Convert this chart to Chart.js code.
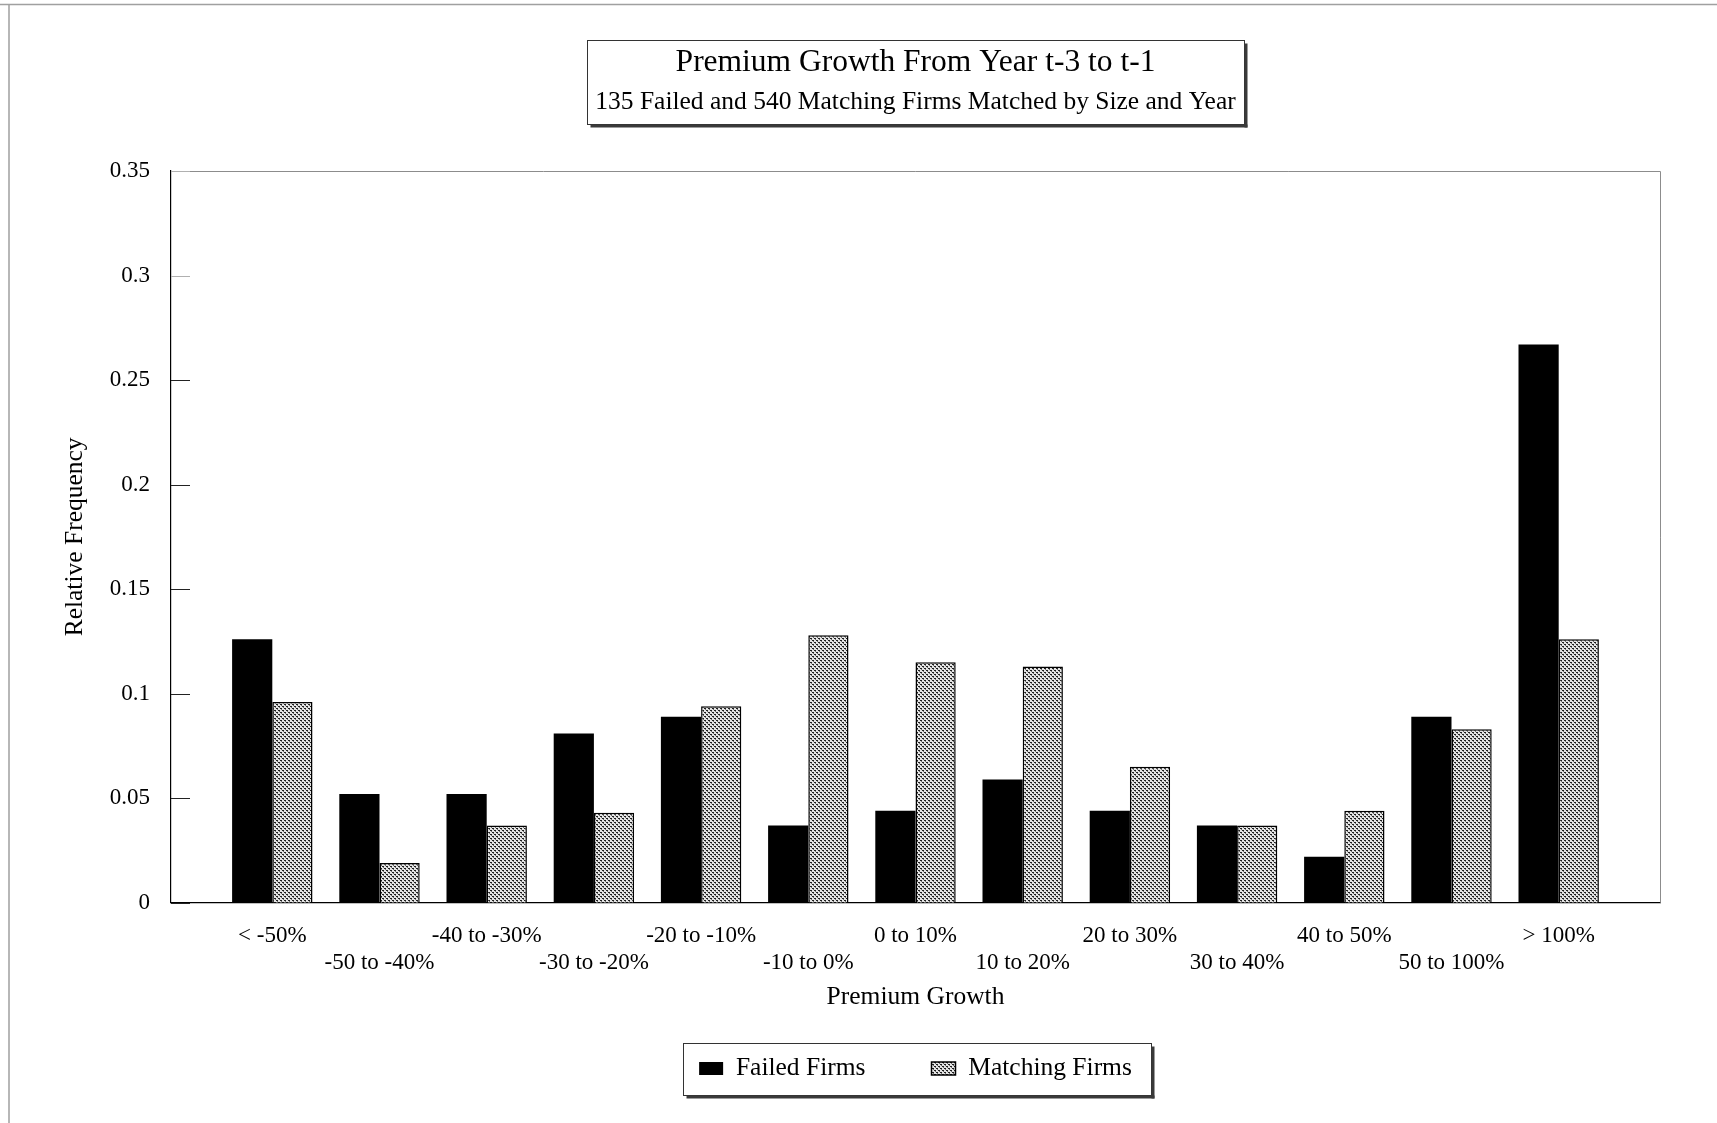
<!DOCTYPE html>
<html>
<head>
<meta charset="utf-8">
<script src="https://cdn.jsdelivr.net/npm/chart.js@4.4.1/dist/chart.umd.min.js"></script>
<style>
html,body{margin:0;padding:0;background:#fff;}
#wrap{width:1717px;height:1123px;position:relative;}
</style>
</head>
<body>
<div id="wrap"><canvas id="c" width="1717" height="1123"></canvas></div>
<script>
// ---- data ----
const categories = ['< -50%', '-50 to -40%', '-40 to -30%', '-30 to -20%', '-20 to -10%', '-10 to 0%', '0 to 10%', '10 to 20%', '20 to 30%', '30 to 40%', '40 to 50%', '50 to 100%', '> 100%'];
const failedFirms = [0.126, 0.052, 0.052, 0.081, 0.089, 0.037, 0.044, 0.059, 0.044, 0.037, 0.022, 0.089, 0.267];
const matchingFirms = [0.096, 0.019, 0.037, 0.043, 0.094, 0.128, 0.115, 0.113, 0.065, 0.037, 0.044, 0.083, 0.126];
const yTickValues = [0, 0.05, 0.1, 0.15, 0.2, 0.25, 0.3, 0.35];
const seriesNames = ['Failed Firms', 'Matching Firms'];
const titleText = 'Premium Growth From Year t-3 to t-1';
const subtitleText = '135 Failed and 540 Matching Firms Matched by Size and Year';
const xTitle = 'Premium Growth';
const yTitle = 'Relative Frequency';

const FONT = "'Liberation Serif', 'Times New Roman', serif";
Chart.defaults.font.family = FONT;
Chart.defaults.color = '#000';

// dotted fill pattern for the matching firms
function makePattern() {
  const t = document.createElement('canvas');
  t.width = 4; t.height = 4;
  const g = t.getContext('2d');
  g.fillStyle = '#e4e4e4'; g.fillRect(0, 0, 4, 4);
  g.fillStyle = '#1e1e1e';
  g.fillRect(0, 0, 2, 1);
  g.fillRect(2, 2, 2, 1);
  g.fillStyle = '#707070';
  g.fillRect(1, 1, 1, 1);
  g.fillRect(3, 3, 1, 1);
  return g.createPattern(t, 'repeat');
}
const dotPattern = makePattern();

const deco = {
  id: 'deco',
  beforeDraw(chart) {
    const ctx = chart.ctx;
    ctx.save();
    ctx.fillStyle = '#fff';
    ctx.fillRect(0, 0, chart.width, chart.height);
    ctx.strokeStyle = '#a0a0a0';
    ctx.lineWidth = 1.5;
    ctx.beginPath();
    ctx.moveTo(0, 4.5); ctx.lineTo(chart.width, 4.5);
    ctx.moveTo(9, 4.5); ctx.lineTo(9, chart.height);
    ctx.stroke();
    ctx.restore();
  },
  afterDraw(chart) {
    const ctx = chart.ctx;
    const a = chart.chartArea;
    const y = chart.scales.y;
    ctx.save();
    // top and right frame of plot
    ctx.strokeStyle = '#8c8c8c';
    ctx.lineWidth = 1;
    ctx.beginPath();
    ctx.moveTo(a.left, Math.round(a.top) + 0.5);
    ctx.lineTo(Math.round(a.right) + 0.5, Math.round(a.top) + 0.5);
    ctx.lineTo(Math.round(a.right) + 0.5, a.bottom);
    ctx.stroke();
    // inner tick marks
    y.ticks.forEach(t => {
      const py = Math.round(y.getPixelForValue(t.value)) + 0.5;
      ctx.strokeStyle = t.value > 0.27 ? '#b0b0b0' : '#222';
      ctx.beginPath();
      ctx.moveTo(a.left, py);
      ctx.lineTo(a.left + 19, py);
      ctx.stroke();
    });
    // title box
    const tb = chart.titleBlock;
    if (tb) {
      ctx.font = "25.5px " + FONT;
      const w = ctx.measureText(subtitleText).width + 16;
      const cx = (tb.left + tb.right) / 2;
      const L = Math.round(cx - w / 2) + 0.5, R = Math.round(cx + w / 2) + 0.5;
      const T = Math.round(tb.top + 40) + 0.5, B = Math.round(tb.bottom + 43.6) + 0.5;
      ctx.strokeStyle = '#333';
      ctx.lineWidth = 1;
      ctx.strokeRect(L, T, R - L, B - T);
      ctx.fillStyle = '#3a3a3a';
      ctx.fillRect(R, T + 3, 3, B - T);
      ctx.fillRect(L + 3, B, R - L, 3);
    }
    // legend box
    const lg = chart.legend;
    if (lg && lg.legendHitBoxes && lg.legendHitBoxes.length) {
      const hb = lg.legendHitBoxes;
      const h0 = hb[0], h1 = hb[hb.length - 1];
      const cy = h0.top + h0.height / 2;
      const L = Math.round(h0.left - 16) + 0.5, R = Math.round(h1.left + h1.width + 19) + 0.5;
      const T = Math.round(cy - 26) + 0.5, B = Math.round(cy + 26) + 0.5;
      ctx.strokeStyle = '#333';
      ctx.lineWidth = 1;
      ctx.strokeRect(L, T, R - L, B - T);
      ctx.fillStyle = '#3a3a3a';
      ctx.fillRect(R, T + 3, 3, B - T);
      ctx.fillRect(L + 3, B, R - L, 3);
    }
    ctx.restore();
  }
};

new Chart(document.getElementById('c'), {
  type: 'bar',
  data: {
    labels: categories,
    datasets: [
      { label: seriesNames[0], data: failedFirms, backgroundColor: '#000', borderColor: '#000', borderWidth: 0 },
      { label: seriesNames[1], data: matchingFirms, backgroundColor: dotPattern, borderColor: '#000', borderWidth: 1.5 }
    ]
  },
  options: {
    responsive: false,
    animation: false,
    devicePixelRatio: 1,
    layout: { padding: { top: 0, left: 0, right: 57, bottom: 31.75 } },
    datasets: { bar: { categoryPercentage: 0.75, barPercentage: 1.0 } },
    plugins: {
      tooltip: { enabled: false },
      title: {
        display: true, text: titleText, fullSize: false, color: '#000',
        font: { size: 31.5, weight: 'normal', lineHeight: '36px' },
        padding: { top: 44.4, bottom: 0 }
      },
      subtitle: {
        display: true, text: subtitleText, fullSize: false, color: '#000',
        font: { size: 25.5, weight: 'normal', lineHeight: '30px' },
        padding: { top: 6.4, bottom: 54.2 }
      },
      legend: {
        display: true, position: 'bottom', fullSize: false,
        labels: {
          boxWidth: 24, boxHeight: 13, padding: 66, color: '#000',
          font: { size: 25.5 }
        }
      }
    },
    scales: {
      x: {
        offset: true,
        afterBuildTicks: (s) => { s._startValue -= 0.445; s._valueRange += 0.89; },
        afterFit: (s) => { s.height = 87; },
        grid: { display: false, drawTicks: false, tickLength: 0 },
        border: { display: true, color: '#000', width: 1.2 },
        ticks: {
          autoSkip: false, maxRotation: 0, minRotation: 0, padding: 20, color: '#000',
          font: { size: 23, lineHeight: '27px' },
          callback: (v, i) => (i % 2 ? ['', categories[i]] : categories[i])
        },
        title: {
          display: true, text: xTitle, color: '#000',
          font: { size: 25.5, lineHeight: '28px' },
          padding: { top: 6, bottom: -21.25 }
        }
      },
      y: {
        min: 0, max: 0.35,
        afterBuildTicks: (s) => { s.ticks = yTickValues.map(v => ({ value: v })); },
        afterFit: (s) => { s.width = 171; },
        grid: { display: false, drawTicks: false, tickLength: 0 },
        border: { display: true, color: '#000', width: 1.2 },
        ticks: {
          padding: 21, color: '#000',
          font: { size: 23 },
          callback: (v) => String(Number(Number(v).toFixed(2)))
        },
        title: {
          display: true, text: yTitle, color: '#000',
          font: { size: 25.5, lineHeight: '28px' },
          padding: { top: 61, bottom: 0 }
        }
      }
    }
  },
  plugins: [deco]
});
</script>
</body>
</html>
